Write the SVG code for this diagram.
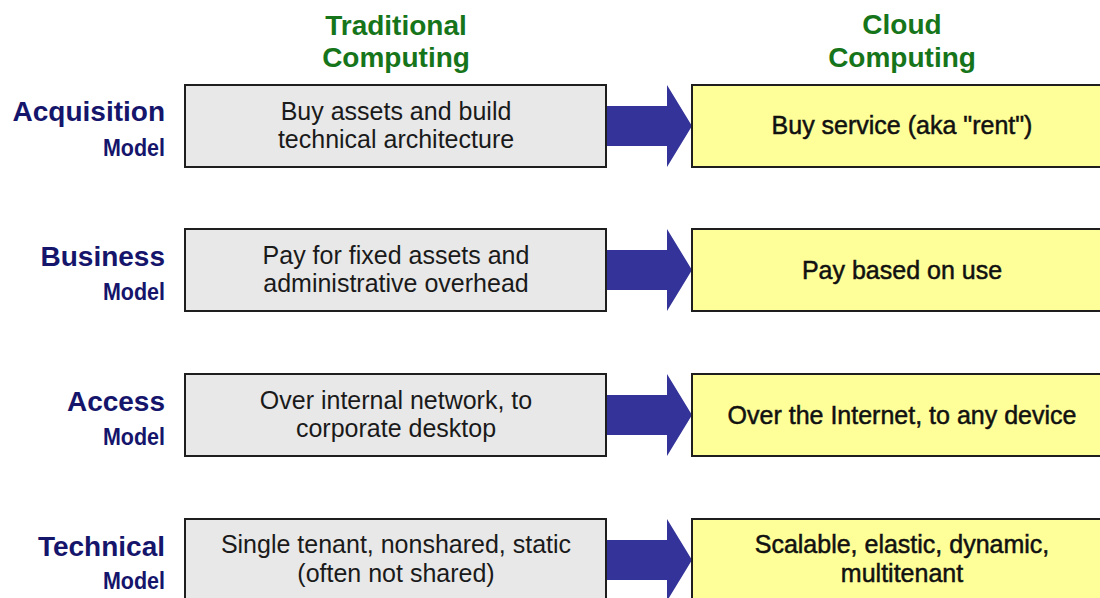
<svg xmlns="http://www.w3.org/2000/svg" width="1100" height="598" viewBox="0 0 1100 598">
<style>
.head{font-family:"Liberation Sans",Arial,sans-serif;font-weight:bold;font-size:28px;fill:#16751a;text-anchor:middle}
.lbl{font-family:"Liberation Sans",Arial,sans-serif;font-weight:bold;font-size:28px;fill:#15156b;text-anchor:end}
.sub{font-family:"Liberation Sans",Arial,sans-serif;font-weight:bold;font-size:21.5px;fill:#15156b;text-anchor:end}
.trad{fill:#e8e8e8;stroke:#1e1e1e;stroke-width:2}
.cloud{fill:#ffff99;stroke:#1e1e1e;stroke-width:2}
.lt{font-family:"Liberation Sans",Arial,sans-serif;font-size:25px;fill:#1a1a1a;text-anchor:middle}
.rt{font-family:"Liberation Sans",Arial,sans-serif;font-size:25px;fill:#111;stroke:#111;stroke-width:0.5;text-anchor:middle}
.arr{fill:#333399}
</style>
<g id="headers">
<text class="head" x="396" y="35">Traditional</text>
<text class="head" x="396" y="67">Computing</text>
<text class="head" x="902" y="34">Cloud</text>
<text class="head" x="902" y="67">Computing</text>
</g>
<g id="labels">
<text class="lbl" x="165" y="121">Acquisition</text>
<text class="sub" transform="translate(165,156) scale(1,1.15)">Model</text>
<text class="lbl" x="165" y="266">Business</text>
<text class="sub" transform="translate(165,300) scale(1,1.15)">Model</text>
<text class="lbl" x="165" y="411">Access</text>
<text class="sub" transform="translate(165,445) scale(1,1.15)">Model</text>
<text class="lbl" x="165" y="556">Technical</text>
<text class="sub" transform="translate(165,589) scale(1,1.15)">Model</text>
</g>
<g id="connectors">
<polygon class="arr" points="606,106 667,106 667,85 692,126 667,167 667,146 606,146"/>
<polygon class="arr" points="606,250 667,250 667,229 692,270 667,311 667,290 606,290"/>
<polygon class="arr" points="606,395 667,395 667,374 692,415 667,456 667,435 606,435"/>
<polygon class="arr" points="606,540 667,540 667,519 692,560 667,601 667,580 606,580"/>
</g>
<g id="trad-acq">
<rect class="trad" x="185" y="85" width="421" height="82"/>
<text class="lt" x="396" y="120">Buy assets and build</text>
<text class="lt" x="396" y="148">technical architecture</text>
</g>
<g id="cloud-acq">
<rect class="cloud" x="692" y="85" width="421" height="82"/>
<text class="rt" x="902" y="134">Buy service (aka "rent")</text>
</g>
<g id="trad-bus">
<rect class="trad" x="185" y="229" width="421" height="82"/>
<text class="lt" x="396" y="264">Pay for fixed assets and</text>
<text class="lt" x="396" y="292">administrative overhead</text>
</g>
<g id="cloud-bus">
<rect class="cloud" x="692" y="229" width="421" height="82"/>
<text class="rt" x="902" y="279">Pay based on use</text>
</g>
<g id="trad-acc">
<rect class="trad" x="185" y="374" width="421" height="82"/>
<text class="lt" x="396" y="409">Over internal network, to</text>
<text class="lt" x="396" y="437">corporate desktop</text>
</g>
<g id="cloud-acc">
<rect class="cloud" x="692" y="374" width="421" height="82"/>
<text class="rt" x="902" y="424">Over the Internet, to any device</text>
</g>
<g id="trad-tech">
<rect class="trad" x="185" y="519" width="421" height="84"/>
<text class="lt" x="396" y="553">Single tenant, nonshared, static</text>
<text class="lt" x="396" y="582">(often not shared)</text>
</g>
<g id="cloud-tech">
<rect class="cloud" x="692" y="519" width="421" height="84"/>
<text class="rt" x="902" y="553">Scalable, elastic, dynamic,</text>
<text class="rt" x="902" y="582">multitenant</text>
</g>
</svg>
